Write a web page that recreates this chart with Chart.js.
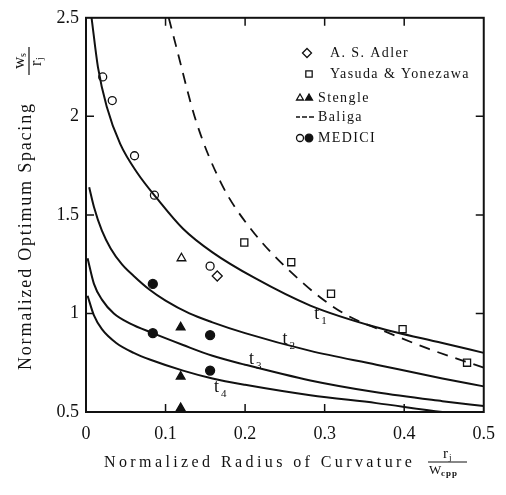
<!DOCTYPE html>
<html>
<head>
<meta charset="utf-8">
<script src="https://cdn.jsdelivr.net/npm/chart.js@4.4.1/dist/chart.umd.min.js"></script>
<style>
  html, body { margin: 0; padding: 0; background: #fff; }
  #chart { display: block; }
</style>
</head>
<body>
<canvas id="chart" width="506" height="495"></canvas>
<script>
// tick labels
const xTickLabels = ['0', '0.1', '0.2', '0.3', '0.4', '0.5'];
const yTickLabels = ['0.5', '1', '1.5', '2', '2.5'];

// model curves t1..t4
const t1X = [0.007, 0.015, 0.026, 0.043, 0.065, 0.090, 0.122, 0.159, 0.212, 0.282, 0.365, 0.448, 0.5];
const t1Y = [2.50, 2.25, 2.05, 1.86, 1.71, 1.58, 1.43, 1.31, 1.18, 1.04, 0.93, 0.85, 0.80];
const t2X = [0.004, 0.010, 0.020, 0.031, 0.045, 0.060, 0.080, 0.100, 0.130, 0.159, 0.200, 0.282, 0.365, 0.448, 0.5];
const t2Y = [1.64, 1.54, 1.42, 1.33, 1.25, 1.19, 1.12, 1.065, 1.00, 0.955, 0.90, 0.81, 0.74, 0.67, 0.63];
const t3X = [0.002, 0.010, 0.020, 0.035, 0.055, 0.084, 0.122, 0.159, 0.200, 0.282, 0.365, 0.448, 0.5];
const t3Y = [1.28, 1.15, 1.07, 1.00, 0.95, 0.90, 0.84, 0.785, 0.74, 0.66, 0.60, 0.555, 0.53];
const t4X = [0.002, 0.010, 0.020, 0.038, 0.060, 0.081, 0.122, 0.159, 0.200, 0.282, 0.365, 0.448, 0.5];
const t4Y = [1.09, 0.99, 0.92, 0.85, 0.80, 0.765, 0.71, 0.67, 0.638, 0.585, 0.545, 0.50, 0.48];

// Baliga (dashed)
const baligaX = [0.104, 0.113, 0.138, 0.170, 0.207, 0.274, 0.324, 0.381, 0.431, 0.5];
const baligaY = [2.50, 2.36, 1.98, 1.66, 1.43, 1.15, 1.00, 0.90, 0.82, 0.725];

// measured points
const adlerX = [0.165];
const adlerY = [1.19];
const yasudaX = [0.199, 0.258, 0.308, 0.398, 0.479];
const yasudaY = [1.36, 1.26, 1.10, 0.92, 0.75];
const stengleOpenX = [0.120];
const stengleOpenY = [1.28];
const stengleFilledX = [0.119, 0.119, 0.119];
const stengleFilledY = [0.93, 0.68, 0.52];
const mediciOpenX = [0.021, 0.033, 0.061, 0.086, 0.156];
const mediciOpenY = [2.20, 2.08, 1.80, 1.60, 1.24];
const mediciFilledX = [0.084, 0.084, 0.156, 0.156];
const mediciFilledY = [1.15, 0.90, 0.89, 0.71];

// curve labels: [x, y, subscript]
const curveLabels = [
  [0.292, 0.997, '1'],
  [0.252, 0.872, '2'],
  [0.210, 0.770, '3'],
  [0.166, 0.625, '4']
];

const SERIF = "'Liberation Serif', 'Times New Roman', Times, serif";
const INK = '#111';

function pts(xs, ys) {
  return xs.map((x, i) => ({ x: x, y: ys[i] }));
}

function curve(xs, ys, dashed) {
  return {
    type: 'line',
    data: pts(xs, ys),
    borderColor: INK,
    borderWidth: dashed ? 1.8 : 2,
    borderDash: dashed ? [11, 8] : [],
    pointRadius: 0,
    cubicInterpolationMode: 'monotone',
    fill: false
  };
}

function marks(xs, ys, style, radius, filled) {
  return {
    type: 'scatter',
    data: pts(xs, ys),
    pointStyle: style,
    pointRadius: radius,
    pointBorderWidth: 1.3,
    pointBorderColor: INK,
    pointBackgroundColor: filled ? INK : '#fff'
  };
}

Chart.defaults.font.family = SERIF;
Chart.defaults.color = INK;

const frameAndText = {
  id: 'frameAndText',
  afterDatasetsDraw(chart) {
    const ctx = chart.ctx;
    const a = chart.chartArea;
    const xs = chart.scales.x, ys = chart.scales.y;
    ctx.save();
    ctx.strokeStyle = INK;
    ctx.fillStyle = INK;

    // frame
    ctx.lineWidth = 2;
    ctx.strokeRect(a.left, a.top, a.right - a.left, a.bottom - a.top);

    // inward ticks
    ctx.lineWidth = 1.5;
    ctx.beginPath();
    [0.1, 0.2, 0.3, 0.4].forEach(v => {
      const px = xs.getPixelForValue(v);
      ctx.moveTo(px, a.bottom); ctx.lineTo(px, a.bottom - 8);
      ctx.moveTo(px, a.top); ctx.lineTo(px, a.top + 8);
    });
    [1, 1.5, 2].forEach(v => {
      const py = ys.getPixelForValue(v);
      ctx.moveTo(a.left, py); ctx.lineTo(a.left + 8, py);
      ctx.moveTo(a.right, py); ctx.lineTo(a.right - 8, py);
    });
    ctx.stroke();

    // curve labels t1..t4
    ctx.textBaseline = 'alphabetic';
    ctx.textAlign = 'left';
    curveLabels.forEach(l => {
      const px = xs.getPixelForValue(l[0]);
      const py = ys.getPixelForValue(l[1]);
      ctx.font = '18px ' + SERIF;
      ctx.fillText('t', px - 4, py + 5);
      ctx.font = '11px ' + SERIF;
      ctx.fillText(l[2], px + 3, py + 10);
    });

    // legend
    const legendRows = [
      { y: 53, tx: 330, text: 'A. S. Adler' },
      { y: 74, tx: 330, text: 'Yasuda & Yonezawa' },
      { y: 98, tx: 318, text: 'Stengle' },
      { y: 117, tx: 318, text: 'Baliga' },
      { y: 138, tx: 318, text: 'MEDICI' }
    ];
    ctx.font = '14px ' + SERIF;
    ctx.letterSpacing = '1.4px';
    ctx.textBaseline = 'middle';
    legendRows.forEach(r => ctx.fillText(r.text, r.tx, r.y));
    ctx.letterSpacing = '0px';

    const dp = (style, r, x, y, filled) => {
      ctx.fillStyle = filled ? INK : '#fff';
      ctx.strokeStyle = INK;
      ctx.lineWidth = 1.3;
      Chart.helpers.drawPoint(ctx, { pointStyle: style, radius: r, borderWidth: 1.3, rotation: 0 }, x, y);
    };
    dp('rectRot', 4.5, 307, 53, false);
    dp('rect', 4.5, 309, 74, false);
    dp('triangle', 4, 300, 98, false);
    dp('triangle', 4, 309, 98, true);
    dp('circle', 3.5, 300, 138, false);
    dp('circle', 3.8, 309, 138, true);
    ctx.strokeStyle = INK;
    ctx.lineWidth = 1.3;
    ctx.beginPath();
    [[296, 300], [302, 307], [309, 314]].forEach(s => { ctx.moveTo(s[0], 117); ctx.lineTo(s[1], 117); });
    ctx.stroke();
    ctx.fillStyle = INK;

    // y axis title (rotated)
    ctx.save();
    ctx.translate(31, 370);
    ctx.rotate(-Math.PI / 2);
    ctx.font = '18px ' + SERIF;
    ctx.letterSpacing = '1.8px';
    ctx.textAlign = 'left';
    ctx.textBaseline = 'alphabetic';
    ctx.fillText('Normalized Optimum Spacing', 0, 0);
    ctx.restore();

    // y axis fraction w_s / r_j
    ctx.save();
    ctx.translate(29, 61);
    ctx.rotate(-Math.PI / 2);
    ctx.lineWidth = 1.2;
    ctx.beginPath();
    ctx.moveTo(-14, 0); ctx.lineTo(14, 0);
    ctx.stroke();
    ctx.textBaseline = 'alphabetic';
    ctx.textAlign = 'left';
    ctx.font = '17px ' + SERIF;
    ctx.fillText('w', -8, -5);
    ctx.font = '10px ' + SERIF;
    ctx.fillText('s', 4, -3);
    ctx.font = '16px ' + SERIF;
    ctx.fillText('r', -5, 12);
    ctx.font = '10px ' + SERIF;
    ctx.fillText('j', 1, 14);
    ctx.restore();

    // x axis title
    ctx.font = '16px ' + SERIF;
    ctx.letterSpacing = '3.4px';
    ctx.textAlign = 'left';
    ctx.textBaseline = 'alphabetic';
    ctx.fillText('Normalized Radius of Curvature', 104, 467);
    ctx.letterSpacing = '0px';

    // x axis fraction r_j / W_cpp
    ctx.lineWidth = 1;
    ctx.beginPath();
    ctx.moveTo(428, 462); ctx.lineTo(467, 462);
    ctx.stroke();
    ctx.font = '15px ' + SERIF;
    ctx.fillText('r', 443, 458);
    ctx.font = '9px ' + SERIF;
    ctx.fillText('j', 449, 460);
    ctx.font = '13px ' + SERIF;
    ctx.fillText('W', 429, 474);
    ctx.font = 'bold 9px ' + SERIF;
    ctx.letterSpacing = '1px';
    ctx.fillText('cpp', 441, 476);
    ctx.letterSpacing = '0px';

    ctx.restore();
  }
};

new Chart(document.getElementById('chart'), {
  data: {
    datasets: [
      curve(t1X, t1Y, false),
      curve(t2X, t2Y, false),
      curve(t3X, t3Y, false),
      curve(t4X, t4Y, false),
      curve(baligaX, baligaY, true),
      marks(adlerX, adlerY, 'rectRot', 5, false),
      marks(yasudaX, yasudaY, 'rect', 5, false),
      marks(stengleOpenX, stengleOpenY, 'triangle', 5, false),
      marks(stengleFilledX, stengleFilledY, 'triangle', 5, true),
      marks(mediciOpenX, mediciOpenY, 'circle', 4, false),
      marks(mediciFilledX, mediciFilledY, 'circle', 4.5, true)
    ]
  },
  options: {
    responsive: false,
    animation: false,
    devicePixelRatio: 1,
    layout: { padding: { top: 14, right: 17, left: 0, bottom: 0 } },
    plugins: { legend: { display: false }, tooltip: { enabled: false } },
    scales: {
      x: {
        type: 'linear',
        min: 0,
        max: 0.5,
        grid: { display: false, drawTicks: false },
        border: { display: false },
        ticks: {
          stepSize: 0.1,
          padding: 11,
          maxRotation: 0,
          font: { size: 18, family: SERIF },
          color: INK,
          callback: (v, i) => xTickLabels[i]
        },
        afterFit: s => { s.height = 83; }
      },
      y: {
        type: 'linear',
        min: 0.5,
        max: 2.5,
        grid: { display: false, drawTicks: false },
        border: { display: false },
        ticks: {
          stepSize: 0.5,
          padding: 7,
          font: { size: 18, family: SERIF },
          color: INK,
          callback: (v, i) => yTickLabels[i]
        },
        afterFit: s => { s.width = 86; }
      }
    }
  },
  plugins: [frameAndText]
});
</script>
</body>
</html>
